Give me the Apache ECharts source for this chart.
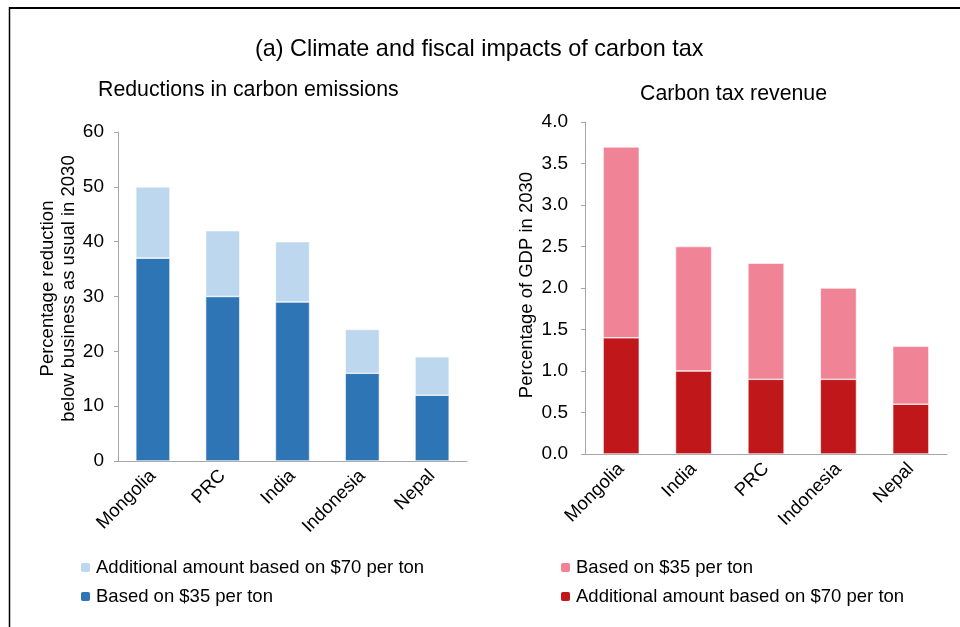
<!DOCTYPE html>
<html><head><meta charset="utf-8">
<script src="https://cdn.jsdelivr.net/npm/echarts@6/dist/echarts.min.js"></script>
<style>html,body{margin:0;padding:0;background:#fff}#c{width:960px;height:627px}</style>
</head><body><div id="c"></div>
<script>
const leftCategories = ['Mongolia', 'PRC', 'India', 'Indonesia', 'Nepal'];
const leftBase35 = [37, 30, 29, 16, 12];
const leftAdditional70 = [13, 12, 11, 8, 7];
const rightCategories = ['Mongolia', 'India', 'PRC', 'Indonesia', 'Nepal'];
const rightBottom = [1.4, 1.0, 0.9, 0.9, 0.6];
const rightTop = [2.3, 1.5, 1.4, 1.1, 0.7];
const leftTicks = {min: 0, max: 60, interval: 10};
const rightTicks = {min: 0, max: 4, interval: 0.5};

const FONT = 'Liberation Sans, Arial, sans-serif';
const axisGray = '#A6A6A6';
const chart = echarts.init(document.getElementById('c'));
const yAxisCommon = {
  type: 'value',
  axisLine: {show: true, lineStyle: {color: axisGray}},
  axisTick: {show: true, length: 4, lineStyle: {color: axisGray}},
  splitLine: {show: false},
  axisLabel: {color: '#000', fontSize: 19, fontFamily: FONT, margin: 14},
  nameLocation: 'middle',
  nameTextStyle: {color: '#000', fontSize: 18.5, fontFamily: FONT, lineHeight: 21}
};
const xAxisCommon = {
  type: 'category',
  axisLine: {lineStyle: {color: axisGray}},
  axisTick: {show: false},
  axisLabel: {color: '#000', fontSize: 18.5, fontFamily: FONT, rotate: 45, margin: 12, interval: 0,
              padding: [0, 0, 0, 0]}
};
chart.setOption({
  animation: false,
  title: [
    {text: '(a) Climate and fiscal impacts of carbon tax', left: 250, top: 33,
     textStyle: {fontSize: 23.4, fontWeight: 'normal', color: '#000', fontFamily: FONT}},
    {text: 'Reductions in carbon emissions', left: 93, top: 75,
     textStyle: {fontSize: 21.3, fontWeight: 'normal', color: '#000', fontFamily: FONT}},
    {text: 'Carbon tax revenue', left: 635, top: 79,
     textStyle: {fontSize: 21.3, fontWeight: 'normal', color: '#000', fontFamily: FONT}}
  ],
  legend: [
    {orient: 'vertical', left: 74, top: 553, itemWidth: 11, itemHeight: 11, itemGap: 10,
     data: ['Additional amount based on $70 per ton ', 'Based on $35 per ton '],
     textStyle: {fontSize: 18.5, color: '#000', fontFamily: FONT}},
    {orient: 'vertical', left: 554, top: 553, itemWidth: 11, itemHeight: 11, itemGap: 10,
     data: ['Based on $35 per ton', 'Additional amount based on $70 per ton'],
     textStyle: {fontSize: 18.5, color: '#000', fontFamily: FONT}}
  ],
  grid: [
    {left: 118, top: 132, right: 493, bottom: 166},
    {left: 585, top: 122, right: 13, bottom: 173}
  ],
  xAxis: [
    Object.assign({}, xAxisCommon, {gridIndex: 0, data: leftCategories}),
    Object.assign({}, xAxisCommon, {gridIndex: 1, data: rightCategories})
  ],
  yAxis: [
    Object.assign({}, yAxisCommon, {gridIndex: 0, min: leftTicks.min, max: leftTicks.max, interval: leftTicks.interval,
      name: 'Percentage reduction\nbelow business as usual in 2030', nameGap: 36,
      nameTextStyle: Object.assign({}, yAxisCommon.nameTextStyle, {padding: [0, 0, 0, 16]})}),
    Object.assign({}, yAxisCommon, {gridIndex: 1, min: rightTicks.min, max: rightTicks.max, interval: rightTicks.interval,
      name: 'Percentage of GDP in 2030', nameGap: 48,
      nameTextStyle: Object.assign({}, yAxisCommon.nameTextStyle, {padding: [0, 0, 0, 6]}),
      axisLabel: Object.assign({}, yAxisCommon.axisLabel, {margin: 17, formatter: v => v.toFixed(1)})})
  ],
  series: [
    {name: 'Based on $35 per ton ', type: 'bar', stack: 'l', xAxisIndex: 0, yAxisIndex: 0, data: leftBase35,
     barWidth: '49%', itemStyle: {color: '#2E75B6', borderColor: '#fff', borderWidth: 0.6}},
    {name: 'Additional amount based on $70 per ton ', type: 'bar', stack: 'l', xAxisIndex: 0, yAxisIndex: 0, data: leftAdditional70,
     barWidth: '49%', itemStyle: {color: '#BDD7EE', borderColor: '#fff', borderWidth: 0.6}},
    {name: 'Additional amount based on $70 per ton', type: 'bar', stack: 'r', xAxisIndex: 1, yAxisIndex: 1, data: rightBottom,
     barWidth: '50%', itemStyle: {color: '#C0181A', borderColor: '#fff', borderWidth: 0.6}},
    {name: 'Based on $35 per ton', type: 'bar', stack: 'r', xAxisIndex: 1, yAxisIndex: 1, data: rightTop,
     barWidth: '50%', itemStyle: {color: '#F08396', borderColor: '#fff', borderWidth: 0.6}}
  ],
  graphic: [
    {type: 'line', shape: {x1: 9, y1: 8, x2: 960, y2: 8}, style: {stroke: '#000', lineWidth: 2}},
    {type: 'line', shape: {x1: 9.5, y1: 7, x2: 9.5, y2: 627}, style: {stroke: '#000', lineWidth: 1.5}}
  ]
});
</script></body></html>
